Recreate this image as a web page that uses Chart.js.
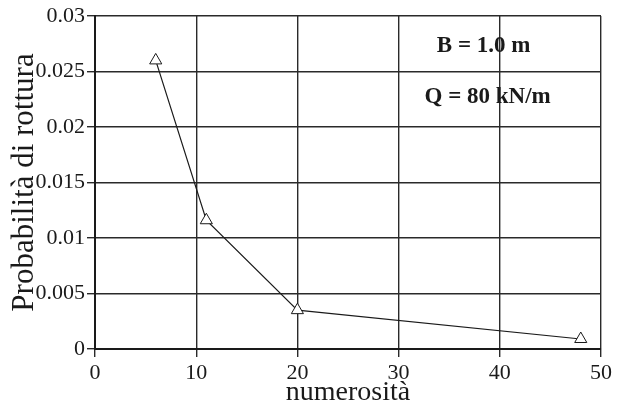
<!DOCTYPE html>
<html lang="it">
<head>
<meta charset="UTF-8">
<title>Probabilità di rottura</title>
<script src="https://cdn.jsdelivr.net/npm/chart.js"></script>
<style>
  html, body { margin: 0; padding: 0; background: #fff; }
  #chart { display: block; }
</style>
</head>
<body>
<canvas id="chart" width="628" height="402"></canvas>
<script>
// sample size vs failure probability
const numerosita = [6, 11, 20, 48];
const probRottura = [0.026, 0.0116, 0.0035, 0.0009];
const yTickLabels = ['0', '0.005', '0.01', '0.015', '0.02', '0.025', '0.03'];
const xTickLabels = ['0', '10', '20', '30', '40', '50'];
const noteLines = ['B = 1.0 m', 'Q = 80 kN/m'];

const SERIF = '"Liberation Serif", "Times New Roman", serif';
const INK = '#1a1a1a';

// text boxes in the upper-right corner of the plot
const notesPlugin = {
  id: 'notes',
  afterDatasetsDraw(chart) {
    const { ctx, scales: { x, y } } = chart;
    const spots = [[38.4, 0.0273], [38.8, 0.0227]];
    ctx.save();
    ctx.fillStyle = INK;
    ctx.font = 'bold 23px ' + SERIF;
    ctx.textAlign = 'center';
    ctx.textBaseline = 'middle';
    noteLines.forEach((t, i) => {
      ctx.fillText(t, x.getPixelForValue(spots[i][0]), y.getPixelForValue(spots[i][1]));
    });
    ctx.restore();
  }
};

new Chart(document.getElementById('chart'), {
  type: 'line',
  data: {
    datasets: [{
      data: numerosita.map((v, i) => ({ x: v, y: probRottura[i] })),
      borderColor: INK,
      borderWidth: 1.2,
      pointStyle: 'triangle',
      pointRadius: 7,
      pointBackgroundColor: '#fff',
      pointBorderColor: INK,
      pointBorderWidth: 1,
      tension: 0
    }]
  },
  options: {
    responsive: false,
    animation: false,
    layout: { padding: { top: 16, right: 27, left: 0, bottom: 0 } },
    plugins: {
      legend: { display: false },
      tooltip: { enabled: false }
    },
    scales: {
      x: {
        type: 'linear',
        min: 0,
        max: 50,
        afterFit: s => { s.height = 53; },
        ticks: {
          stepSize: 10,
          padding: 3,
          color: INK,
          font: { family: SERIF, size: 22 },
          callback: (v, i) => xTickLabels[i]
        },
        grid: { color: '#2a2a2a', lineWidth: 1.4, tickLength: 8, tickColor: '#2a2a2a' },
        border: { color: INK, width: 2 },
        title: {
          display: true,
          text: 'numerosità',
          color: INK,
          font: { family: SERIF, size: 28, lineHeight: 1 },
          padding: { top: 0, bottom: -5 }
        }
      },
      y: {
        min: 0,
        max: 0.03,
        afterFit: s => { s.width = 95; },
        ticks: {
          stepSize: 0.005,
          padding: 2,
          color: INK,
          font: { family: SERIF, size: 22 },
          callback: (v, i) => yTickLabels[i]
        },
        grid: { color: '#2a2a2a', lineWidth: 1.4, tickLength: 8, tickColor: '#2a2a2a' },
        border: { color: INK, width: 2 },
        title: {
          display: true,
          text: 'Probabilità di rottura',
          color: INK,
          font: { family: SERIF, size: 31 },
          padding: { top: 6, bottom: 0 }
        }
      }
    }
  },
  plugins: [notesPlugin]
});
</script>
</body>
</html>
